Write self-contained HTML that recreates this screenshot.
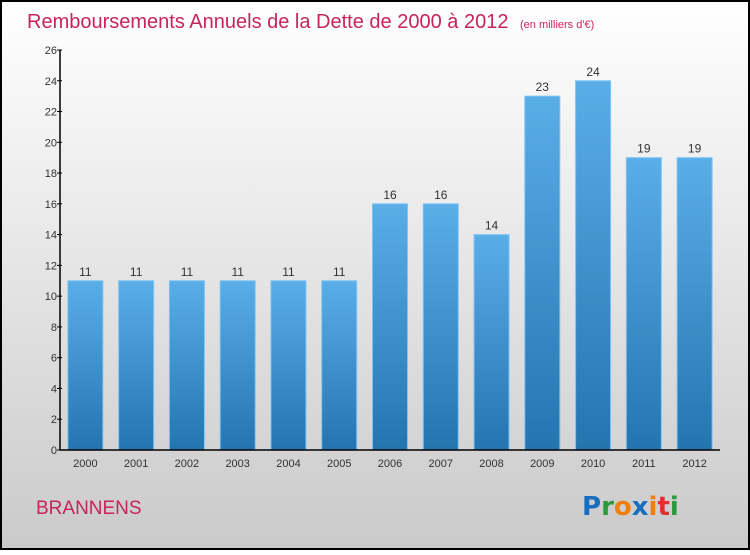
<!DOCTYPE html>
<html><head><meta charset="utf-8"><style>
body{margin:0;width:750px;height:550px;overflow:hidden;font-family:"Liberation Sans",sans-serif}
</style></head><body>
<svg width="750" height="550" xmlns="http://www.w3.org/2000/svg">
<defs>
<linearGradient id="bg" x1="0" y1="0" x2="0" y2="1"><stop offset="0" stop-color="#ffffff"/><stop offset="1" stop-color="#cacaca"/></linearGradient>
<linearGradient id="bar" x1="0" y1="0" x2="0" y2="1"><stop offset="0" stop-color="#5aaee8"/><stop offset="1" stop-color="#2474b0"/></linearGradient>
</defs>
<rect x="1" y="1" width="748" height="548" fill="url(#bg)" stroke="#000" stroke-width="2"/>
<text x="27" y="28" font-size="20" fill="#c8245a">Remboursements Annuels de la Dette de 2000 à 2012 <tspan font-size="11" dx="6">(en milliers d'€)</tspan></text>
<g id="plot"></g>
<text x="36" y="514" font-size="19" fill="#c8245a">BRANNENS</text>
<text x="582" y="515" font-size="26" font-weight="bold" font-family="'DejaVu Sans',sans-serif"><tspan fill="#1a6ec0">P</tspan><tspan fill="#2a9a3a">r</tspan><tspan fill="#f07f10">o</tspan><tspan fill="#1a6ec0">x</tspan><tspan fill="#f07f10">i</tspan><tspan fill="#e03030">t</tspan><tspan fill="#2a9a3a">i</tspan></text>
</svg>
<script>
const categories=["2000","2001","2002","2003","2004","2005","2006","2007","2008","2009","2010","2011","2012"];
const values=[11,11,11,11,11,11,16,16,14,23,24,19,19];
const yTicks=[0,2,4,6,8,10,12,14,16,18,20,22,24,26];
const NS="http://www.w3.org/2000/svg";
const g=document.getElementById('plot');
const x0=60,x1=720,y0=450,y1=50,ymax=26;
const step=(x1-x0)/categories.length;
const y=v=>y0-(y0-y1)*v/ymax;
const xc=i=>x0+step*(i+0.5);
function el(t,a,txt){const e=document.createElementNS(NS,t);for(const k in a)e.setAttribute(k,a[k]);if(txt!==undefined)e.textContent=txt;g.appendChild(e);return e;}
values.forEach((v,i)=>{
 const b=el('rect',{x:xc(i)-17.5,y:y(v),width:35,height:y0-y(v),fill:'url(#bar)',stroke:'#7cc4f4','stroke-width':1});
 
 
 const t=el('text',{x:xc(i),y:y(v)-5,'font-size':12,'text-anchor':'middle',fill:'#333'},String(v));
 
 
 const c=el('text',{x:xc(i),y:467,'font-size':11,'text-anchor':'middle',fill:'#333'},categories[i]);
 
 
});
yTicks.forEach(v=>{
 const l=el('line',{x1:x0-3,x2:x0+2,y1:y(v),y2:y(v),stroke:'#000'});
 
 
 const t=el('text',{x:x0-3,y:y(v)+4,'font-size':11,'text-anchor':'end',fill:'#333'},String(v));
 
 
});
const ya=el('line',{x1:x0,x2:x0,y1:y1,y2:y0,stroke:'#000','stroke-width':1.5});


const xa=el('line',{x1:x0,x2:x1,y1:y0,y2:y0,stroke:'#000','stroke-width':1.5});


</script>
</body></html>
